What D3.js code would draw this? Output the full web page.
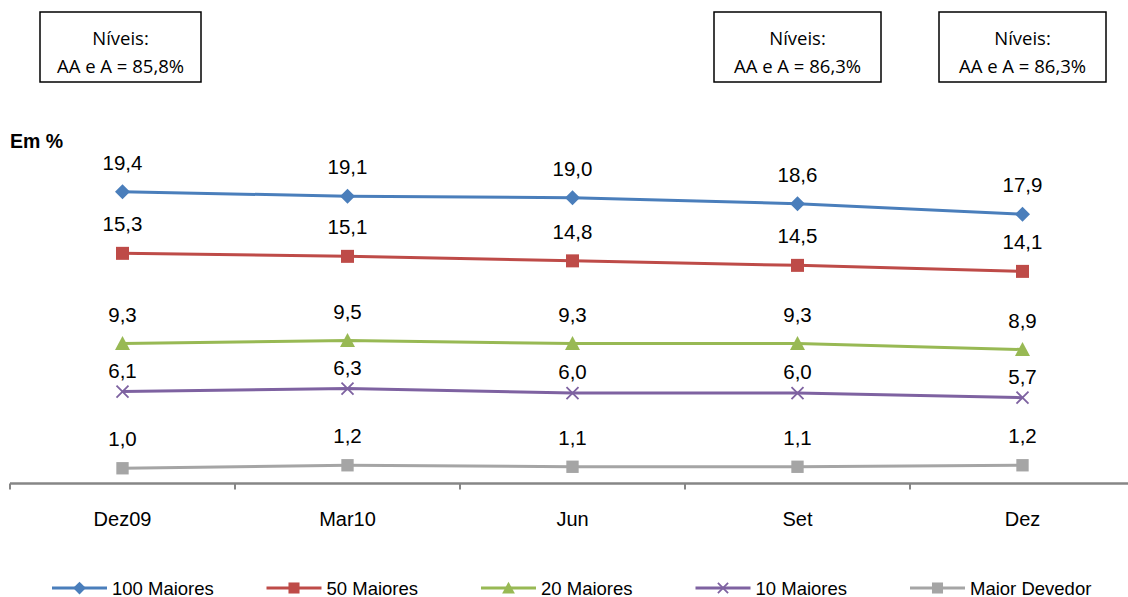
<!DOCTYPE html>
<html>
<head>
<meta charset="utf-8">
<script src="https://cdn.jsdelivr.net/npm/d3@7"></script>
<style>
  html, body { margin: 0; padding: 0; background: #fff; }
  svg { display: block; }
  text { font-family: "Liberation Sans", Arial, sans-serif; font-weight: 400; }
</style>
</head>
<body>
<svg id="chart" width="1128" height="597"></svg>
<script>
const categories = ["Dez09", "Mar10", "Jun", "Set", "Dez"];
const seriesNames = ["100 Maiores", "50 Maiores", "20 Maiores", "10 Maiores", "Maior Devedor"];
const maiores100 = [19.4, 19.1, 19.0, 18.6, 17.9];
const maiores50 = [15.3, 15.1, 14.8, 14.5, 14.1];
const maiores20 = [9.3, 9.5, 9.3, 9.3, 8.9];
const maiores10 = [6.1, 6.3, 6.0, 6.0, 5.7];
const maiorDevedor = [1.0, 1.2, 1.1, 1.1, 1.2];
const boxLines = [
  ["Níveis:", "AA e A = 85,8%"],
  ["Níveis:", "AA e A = 86,3%"],
  ["Níveis:", "AA e A = 86,3%"]
];
const boxCategory = ["Dez09", "Set", "Dez"];

const colors = ["#4A7EBB", "#BE4B48", "#98B954", "#7E62A1", "#A5A5A5"];
const markers = ["diamond", "square", "triangle", "x", "square"];
const labelOffsets = [22, 22, 22, 14, 22];
const seriesValues = [maiores100, maiores50, maiores20, maiores10, maiorDevedor];

const svg = d3.select("#chart");

const x = d3.scaleBand().domain(categories).range([10, 1135]).paddingInner(0).paddingOuter(0);
const cx = c => x(c) + x.bandwidth() / 2;
const y = d3.scaleLinear().domain([0, 20]).range([483.3, 483.3 - 20 * 15.03]);

// Axis
const axisG = svg.append("g").attr("transform", "translate(0,483.5)");
axisG.append("line").attr("x1", 10).attr("x2", 1128).attr("y1", 0).attr("y2", 0)
  .attr("stroke", "#868686").attr("stroke-width", 2.5);
axisG.selectAll("line.tick").data(categories).join("line")
  .attr("class", "tick")
  .attr("x1", d => x(d)).attr("x2", d => x(d))
  .attr("y1", 0).attr("y2", 6)
  .attr("stroke", "#868686").attr("stroke-width", 2);
axisG.selectAll("text.cat").data(categories).join("text")
  .attr("class", "cat")
  .attr("x", d => cx(d)).attr("y", 42)
  .attr("text-anchor", "middle")
  .attr("font-size", 20).attr("font-weight", 400).attr("fill", "#000")
  .text(d => d);

// Unit label
svg.append("text").attr("x", 10).attr("y", 148).attr("font-size", 19.5)
  .style("font-weight", "bold").text("Em %");

function drawMarker(g, type, color, px, py, scale) {
  const s = scale || 1;
  if (type === "diamond") {
    g.append("path").attr("d", `M${px},${py - 7.5 * s}L${px + 7.5 * s},${py}L${px},${py + 7.5 * s}L${px - 7.5 * s},${py}Z`).attr("fill", color);
  } else if (type === "square") {
    const h = 6.5 * s;
    g.append("rect").attr("x", px - h).attr("y", py - h).attr("width", 2 * h).attr("height", 2 * h).attr("fill", color);
  } else if (type === "triangle") {
    const h = 7.5 * s;
    g.append("path").attr("d", `M${px},${py - h}L${px + h},${py + h * 0.85}L${px - h},${py + h * 0.85}Z`).attr("fill", color);
  } else if (type === "x") {
    const h = 6 * s;
    g.append("path").attr("d", `M${px - h},${py - h}L${px + h},${py + h}M${px - h},${py + h}L${px + h},${py - h}`)
      .attr("stroke", color).attr("stroke-width", 1.8).attr("fill", "none");
  }
}

const line = d3.line().x(d => cx(d.c)).y(d => y(d.v));

seriesValues.forEach((vals, i) => {
  const pts = vals.map((v, j) => ({ c: categories[j], v }));
  const g = svg.append("g");
  g.append("path").datum(pts).attr("d", line).attr("fill", "none")
    .attr("stroke", colors[i]).attr("stroke-width", 3);
  pts.forEach(p => {
    drawMarker(g, markers[i], colors[i], cx(p.c), y(p.v), i === 4 ? 0.95 : 1);
  });
  g.selectAll("text").data(pts).join("text")
    .attr("x", d => cx(d.c)).attr("y", d => y(d.v) - labelOffsets[i])
    .attr("text-anchor", "middle").attr("font-size", 20.5).attr("fill", "#000")
    .text(d => d3.format(".1f")(d.v).replace(".", ","));
});

// Boxes
const boxWidths = [161, 167, 167];
boxLines.forEach((lines, i) => {
  const c = cx(boxCategory[i]) + (i === 0 ? -2 : 0);
  const w = boxWidths[i];
  const g = svg.append("g");
  g.append("rect").attr("x", c - w / 2).attr("y", 12).attr("width", w).attr("height", 70)
    .attr("fill", "#fff").attr("stroke", "#000").attr("stroke-width", 1.5);
  lines.forEach((t, k) => {
    g.append("text").attr("x", c).attr("y", 44.5 + k * 28.5)
      .attr("text-anchor", "middle").attr("font-size", 18.5)
      .style("font-family", "'Open Sans', 'Noto Sans', sans-serif")
      .attr("fill", "#000").text(t);
  });
});

// Legend
const legend = svg.append("g").attr("transform", "translate(0,588)");
seriesNames.forEach((name, i) => {
  const x0 = 52 + i * 214.5;
  const g = legend.append("g");
  g.append("line").attr("x1", x0).attr("x2", x0 + 55).attr("y1", 0).attr("y2", 0)
    .attr("stroke", colors[i]).attr("stroke-width", 3);
  drawMarker(g, markers[i], colors[i], x0 + 27.5, 0, 0.85);
  g.append("text").attr("x", x0 + 60).attr("y", 6.5).attr("font-size", 18.5)
    .attr("fill", "#000").text(name);
});
</script>
</body>
</html>
